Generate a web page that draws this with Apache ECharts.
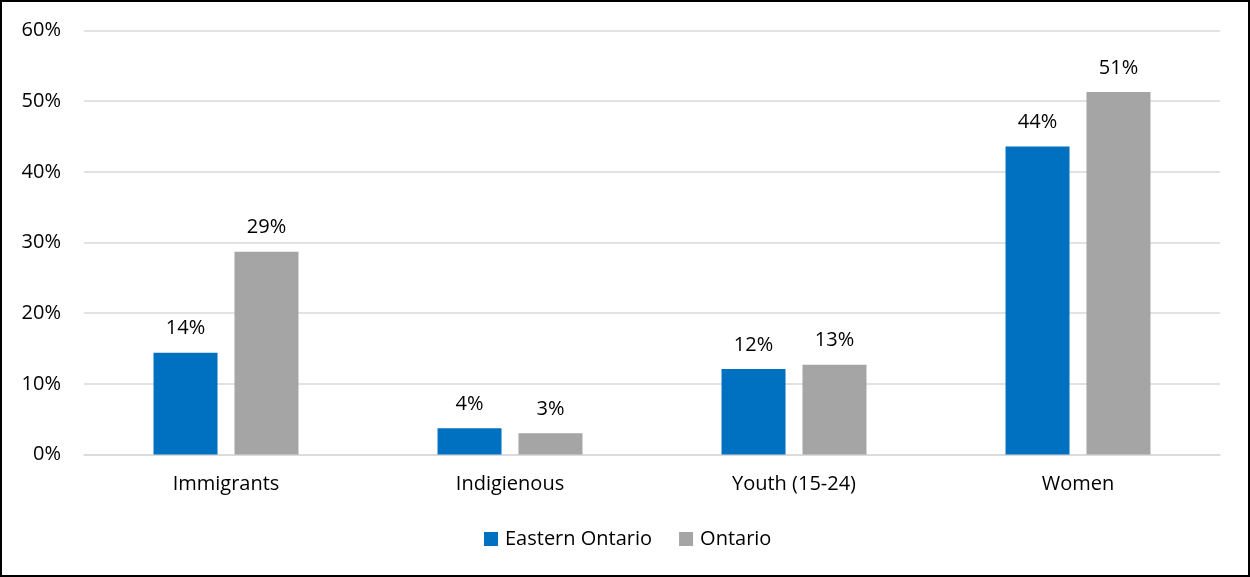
<!DOCTYPE html>
<html>
<head>
<meta charset="utf-8">
<script src="https://cdn.jsdelivr.net/npm/echarts@6/dist/echarts.min.js"></script>
<style>
html,body{margin:0;padding:0;background:#fff;}
#chart{width:1250px;height:577px;}
</style>
</head>
<body>
<div id="chart"></div>
<script>
const categories = ['Immigrants', 'Indigienous', 'Youth (15-24)', 'Women'];
const easternOntario = [14.4, 3.7, 12.1, 43.6];
const ontario = [28.7, 3.0, 12.7, 51.3];
const yTicks = [0, 10, 20, 30, 40, 50, 60];

const FONT = 'Open Sans';
const FS = 20;
const chart = echarts.init(document.getElementById('chart'));
const labelCfg = {
  show: true,
  position: 'top',
  distance: 14,
  color: '#000',
  fontFamily: FONT,
  fontSize: FS,
  formatter: p => Math.round(p.value) + '%'
};
chart.setOption({
  animation: false,
  backgroundColor: '#fff',
  textStyle: { fontFamily: FONT },
  graphic: [{
    type: 'rect',
    shape: { x: 1, y: 1, width: 1248, height: 575 },
    style: { fill: 'none', stroke: '#000', lineWidth: 2 },
    z: 100
  }],
  grid: { left: 84, right: 30, top: 30.5, bottom: 122.5, containLabel: false },
  legend: {
    left: 484,
    top: 529,
    padding: 0,
    itemWidth: 14,
    itemHeight: 14,
    itemGap: 27,
    icon: 'rect',
    textStyle: { fontFamily: FONT, fontSize: FS, color: '#000', padding: [0, 0, 0, 2] },
    data: ['Eastern Ontario', 'Ontario']
  },
  xAxis: {
    type: 'category',
    data: categories,
    axisLine: { show: true, lineStyle: { color: '#D9D9D9', width: 1.5 } },
    axisTick: { show: false },
    axisLabel: { color: '#000', fontFamily: FONT, fontSize: FS, margin: 20 }
  },
  yAxis: {
    type: 'value',
    min: yTicks[0],
    max: yTicks[yTicks.length - 1],
    interval: 10,
    axisLine: { show: false },
    axisTick: { show: false },
    splitLine: { lineStyle: { color: '#D9D9D9', width: 1.5 } },
    axisLabel: { color: '#000', fontFamily: FONT, fontSize: FS, margin: 23, formatter: v => v + '%' }
  },
  series: [
    {
      name: 'Eastern Ontario', type: 'bar', data: easternOntario,
      barWidth: 64, barGap: '26.5%',
      itemStyle: { color: '#0070C0' },
      label: labelCfg
    },
    {
      name: 'Ontario', type: 'bar', data: ontario,
      barWidth: 64,
      itemStyle: { color: '#A5A5A5' },
      label: labelCfg
    }
  ]
});
</script>
</body>
</html>
